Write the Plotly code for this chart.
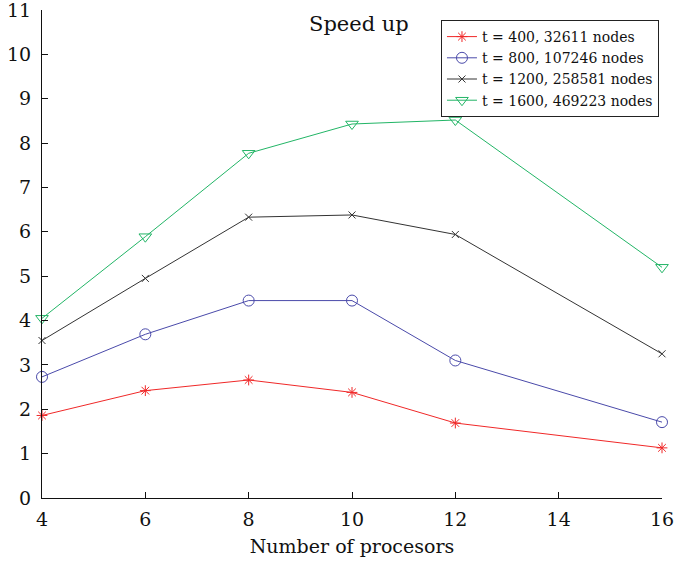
import plotly.graph_objects as go

procs = [4, 6, 8, 10, 12, 16]
names = ["t = 400, 32611 nodes", "t = 800, 107246 nodes",
         "t = 1200, 258581 nodes", "t = 1600, 469223 nodes"]
s400 = [1.86, 2.42, 2.66, 2.38, 1.69, 1.13]
s800 = [2.73, 3.69, 4.45, 4.45, 3.10, 1.71]
s1200 = [3.55, 4.95, 6.33, 6.38, 5.94, 3.25]
s1600 = [4.05, 5.89, 7.77, 8.43, 8.52, 5.20]

colors = ["#f02828", "#4a4aaa", "#333333", "#22b566"]
symbols = ["asterisk-open", "circle-open", "x-thin-open", "triangle-down-open"]
sizes = [9, 11, 7, 11]
series = [s400, s800, s1200, s1600]

FONT = "DejaVu Serif"
fig = go.Figure()
for n, s, c, sym, sz in zip(names, series, colors, symbols, sizes):
    fig.add_trace(go.Scatter(
        x=procs, y=s, name=n, mode="lines+markers",
        line=dict(color=c, width=1),
        marker=dict(symbol=sym, size=sz, color=c, line=dict(color=c, width=1)),
        cliponaxis=False))

fig.update_layout(
    width=675, height=562,
    margin=dict(l=42, r=13, t=10, b=64),
    paper_bgcolor="white", plot_bgcolor="white",
    font=dict(family=FONT, color="#111111"),
    showlegend=True,
    legend=dict(x=0.6435, y=0.9795, xanchor="left", yanchor="top",
                bordercolor="#222222", borderwidth=1, bgcolor="white",
                font=dict(family=FONT, size=14), tracegroupgap=0,
                itemwidth=30),
    annotations=[dict(text="Speed up", x=0.511, y=1.0, xref="paper", yref="paper",
                      xanchor="center", yanchor="top", showarrow=False,
                      font=dict(family=FONT, size=21))],
)
fig.update_xaxes(range=[4, 16], tickvals=[4, 6, 8, 10, 12, 14, 16],
                 automargin=False, ticklabeloverflow="allow", ticklabelstandoff=4,
                 showgrid=False, zeroline=False, showline=True, linecolor="#111111",
                 linewidth=1, ticks="inside", ticklen=6, tickcolor="#111111",
                 tickfont=dict(family=FONT, size=19),
                 title=dict(text="Number of procesors", font=dict(family=FONT, size=19),
                            standoff=10))
fig.update_yaxes(range=[0, 11], tickvals=list(range(12)),
                 automargin=False, ticklabeloverflow="allow", ticklabelstandoff=6,
                 showgrid=False, zeroline=False, showline=True, linecolor="#111111",
                 linewidth=1, ticks="inside", ticklen=6, tickcolor="#111111",
                 tickfont=dict(family=FONT, size=19))

fig.write_html("out.html", config={"displayModeBar": False},
               post_script="document.body.style.margin='0';document.body.style.padding='0';")
